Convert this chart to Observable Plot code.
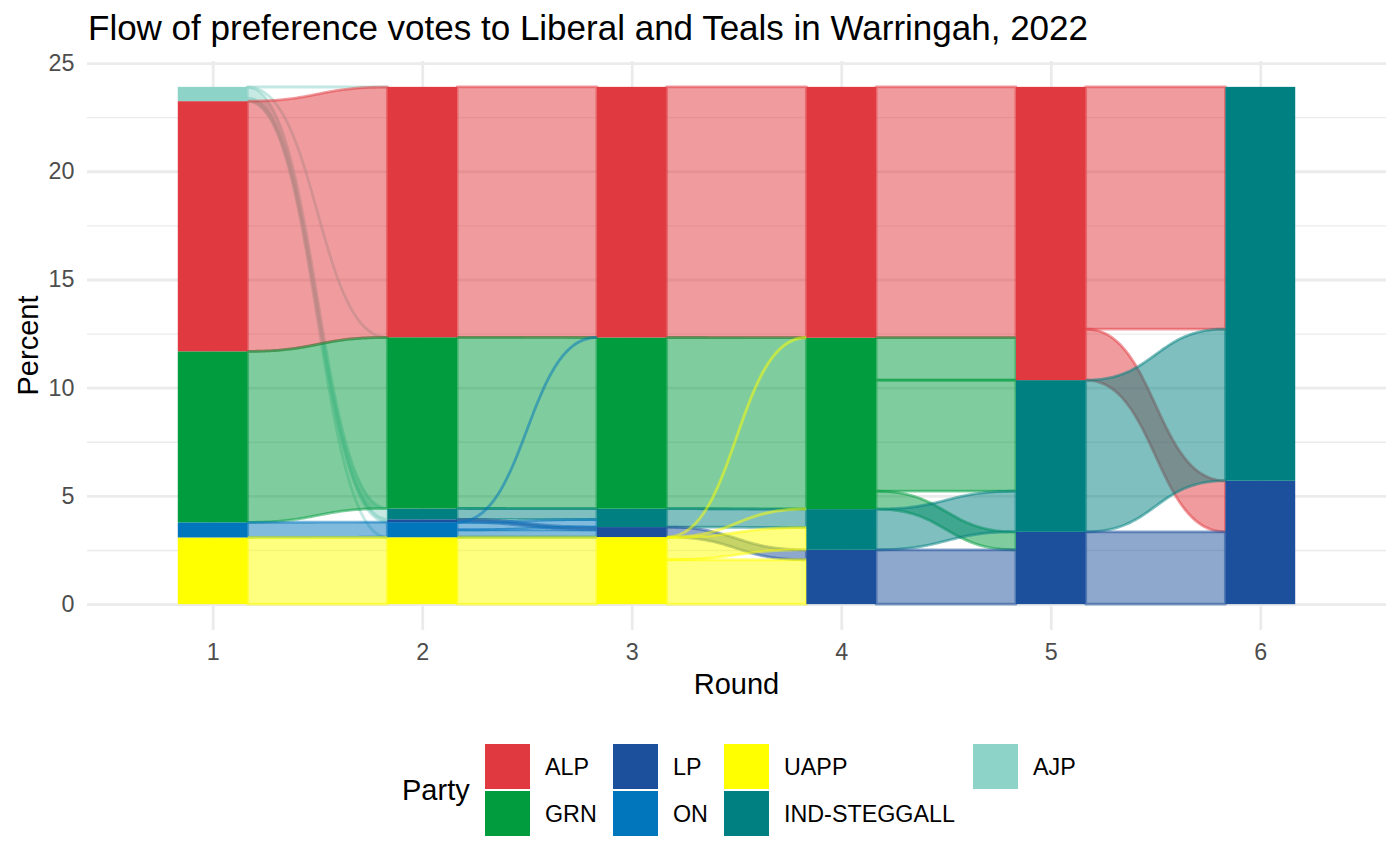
<!DOCTYPE html>
<html>
<head>
<meta charset="utf-8">
<script src="https://cdn.jsdelivr.net/npm/d3@7"></script>
<script src="https://cdn.jsdelivr.net/npm/@observablehq/plot@0.6"></script>
<style>
  html, body { margin: 0; padding: 0; background: #ffffff; }
  #wrap { position: relative; width: 1400px; height: 865px; font-family: "Liberation Sans", Arial, sans-serif; }
  #chart { position: absolute; left: 0; top: 0; }
  #overlay { position: absolute; left: 0; top: 0; }
</style>
</head>
<body>
<div id="wrap">
  <div id="chart"></div>
</div>
<script>
// ---------------- data ----------------
const rounds = [1, 2, 3, 4, 5, 6];
const roundLabels = ["1", "2", "3", "4", "5", "6"];
// stacking order, top to bottom
const parties = ["AJP", "ALP", "GRN", "IND-STEGGALL", "LP", "ON", "UAPP"];
const partyColors = ["#8DD3C7", "#E13940", "#009C3D", "#008080", "#1C4F9C", "#0176BC", "#FFFF00"];
const legendOrder = ["ALP", "GRN", "LP", "ON", "UAPP", "IND-STEGGALL", "AJP"];
const yTicks = [0, 5, 10, 15, 20, 25];
const yMinorTicks = [2.5, 7.5, 12.5, 17.5, 22.5];

// flows between consecutive rounds: [from, to, percent]
const flows1to2 = [
  ["AJP", "ALP", 0.01], ["AJP", "GRN", 0.01], ["AJP", "IND-STEGGALL", 0.50],
  ["AJP", "LP", 0.13], ["AJP", "UAPP", 0.01],
  ["ALP", "ALP", 11.56], ["GRN", "GRN", 7.90], ["ON", "ON", 0.70], ["UAPP", "UAPP", 3.08]
];
const flows2to3 = [
  ["ALP", "ALP", 11.57], ["GRN", "GRN", 7.91], ["IND-STEGGALL", "IND-STEGGALL", 0.50],
  ["LP", "LP", 0.13], ["ON", "ALP", 0.01], ["ON", "IND-STEGGALL", 0.35],
  ["ON", "LP", 0.33], ["ON", "UAPP", 0.01], ["UAPP", "UAPP", 3.09]
];
const flows3to4 = [
  ["ALP", "ALP", 11.58], ["GRN", "GRN", 7.91], ["IND-STEGGALL", "IND-STEGGALL", 0.85],
  ["LP", "LP", 0.46], ["UAPP", "ALP", 0.01], ["UAPP", "GRN", 0.01],
  ["UAPP", "IND-STEGGALL", 1.03], ["UAPP", "LP", 2.05]
];
const flows4to5 = [
  ["ALP", "ALP", 11.59], ["GRN", "ALP", 1.96], ["GRN", "IND-STEGGALL", 5.13],
  ["GRN", "LP", 0.83], ["IND-STEGGALL", "IND-STEGGALL", 1.88], ["LP", "LP", 2.51]
];
const flows5to6 = [
  ["ALP", "IND-STEGGALL", 11.19], ["ALP", "LP", 2.36],
  ["IND-STEGGALL", "IND-STEGGALL", 7.01], ["LP", "LP", 3.34]
];
const transitions = [flows1to2, flows2to3, flows3to4, flows4to5, flows5to6];

// ---------------- layout of alluvia ----------------
const W = 1 / 3;      // stratum width in round units
const K = 0.5;        // curve control offset
const N = 60;         // samples per flow
const idx = p => parties.indexOf(p);

function stackTotals(totals) {
  let y = 0; const pos = new Map();
  for (const p of [...parties].reverse()) {
    const v = totals.get(p) || 0;
    if (v > 0) pos.set(p, {y1: y, y2: y + v});
    y += v;
  }
  return pos;
}

const strata = [];
const flowPts = [];
transitions.forEach((fl, k) => {
  const r = rounds[k], r2 = rounds[k + 1];
  const outT = d3.rollup(fl, v => d3.sum(v, d => d[2]), d => d[0]);
  const inT = d3.rollup(fl, v => d3.sum(v, d => d[2]), d => d[1]);
  const pos0 = stackTotals(outT), pos1 = stackTotals(inT);
  for (const [p, s] of pos0) strata.push({round: r, party: p, y1: s.y1, y2: s.y2});
  if (k === transitions.length - 1) for (const [p, s] of pos1) strata.push({round: r2, party: p, y1: s.y1, y2: s.y2});
  const items = fl.map(([from, to, v]) => ({from, to, v}));
  const cur0 = new Map([...pos0].map(([p, s]) => [p, s.y2]));
  const cur1 = new Map([...pos1].map(([p, s]) => [p, s.y2]));
  [...items].sort((a, b) => idx(a.from) - idx(b.from) || idx(a.to) - idx(b.to)).forEach(f => {
    f.a2 = cur0.get(f.from); f.a1 = f.a2 - f.v; cur0.set(f.from, f.a1);
  });
  [...items].sort((a, b) => idx(a.to) - idx(b.to) || idx(a.from) - idx(b.from)).forEach(f => {
    f.b2 = cur1.get(f.to); f.b1 = f.b2 - f.v; cur1.set(f.to, f.b1);
  });
  items.sort((a, b) => idx(a.from) - idx(b.from) || idx(a.to) - idx(b.to));
  const x0 = r + W / 2, x1 = r2 - W / 2;
  for (const f of items) {
    const id = `${k}-${f.from}-${f.to}`;
    for (let j = 0; j <= N; j++) {
      const t = j / N;
      const sx = 3 * (1 - t) ** 2 * t * K + 3 * (1 - t) * t ** 2 * (1 - K) + t ** 3;
      const sy = 3 * (1 - t) * t ** 2 + t ** 3;
      flowPts.push({
        id, party: f.from,
        x: x0 + (x1 - x0) * sx,
        y1: f.a1 + (f.b1 - f.a1) * sy,
        y2: f.a2 + (f.b2 - f.a2) * sy
      });
    }
  }
});

// ---------------- plot ----------------
const chart = Plot.plot({
  width: 1400,
  height: 865,
  marginLeft: 87,
  marginRight: 14,
  marginTop: 61,
  marginBottom: 235,
  style: {fontFamily: "'Liberation Sans', Arial, sans-serif", background: "#ffffff"},
  x: {domain: [0.4, 6.6]},
  y: {domain: [-1.195, 25.095]},
  color: {domain: parties, range: partyColors},
  marks: [
    Plot.gridY(yMinorTicks, {stroke: "#EBEBEB", strokeOpacity: 1, strokeWidth: 1.4}),
    Plot.gridY(yTicks, {stroke: "#EBEBEB", strokeOpacity: 1, strokeWidth: 2.8}),
    Plot.gridX(rounds, {stroke: "#EBEBEB", strokeOpacity: 1, strokeWidth: 2.8}),
    Plot.areaY(flowPts, {
      x: "x", y1: "y1", y2: "y2", z: "id",
      fill: "party", stroke: "party",
      fillOpacity: 0.5, strokeOpacity: 0.5, strokeWidth: 2.8
    }),
    Plot.rect(strata, {
      x1: d => d.round - W / 2, x2: d => d.round + W / 2,
      y1: "y1", y2: "y2", fill: "party"
    }),
    Plot.axisY(yTicks, {tickSize: 0, tickPadding: 13, fontSize: 23.3, color: "#4D4D4D", label: null}),
    Plot.axisX(rounds, {
      tickSize: 0, tickPadding: 13, fontSize: 23.3, color: "#4D4D4D", label: null,
      tickFormat: d => roundLabels[rounds.indexOf(d)]
    })
  ]
});
document.getElementById("chart").appendChild(chart);

// ---------------- title, axis titles, legend ----------------
const colorOf = p => partyColors[parties.indexOf(p)];
const svg = d3.select("#wrap").append("svg")
  .attr("id", "overlay").attr("width", 1400).attr("height", 865)
  .style("font-family", "'Liberation Sans', Arial, sans-serif");

svg.append("text").attr("x", 88).attr("y", 40).attr("font-size", 35).attr("fill", "#000")
  .text("Flow of preference votes to Liberal and Teals in Warringah, 2022");
svg.append("text").attr("x", 736.5).attr("y", 694).attr("font-size", 29).attr("fill", "#000")
  .attr("text-anchor", "middle").text("Round");
svg.append("text").attr("transform", "translate(38,345.5) rotate(-90)").attr("font-size", 29)
  .attr("fill", "#000").attr("text-anchor", "middle").text("Percent");

const leg = svg.append("g");
leg.append("text").attr("x", 402).attr("y", 800).attr("font-size", 29).attr("fill", "#000").text("Party");
const colX = [485, 613, 724, 973];
const rowY = [744, 791];
legendOrder.forEach((p, i) => {
  const c = Math.floor(i / 2), r = i % 2;
  leg.append("rect").attr("x", colX[c]).attr("y", rowY[r]).attr("width", 45).attr("height", 45)
    .attr("fill", colorOf(p));
  leg.append("text").attr("x", colX[c] + 60).attr("y", rowY[r] + 22.5 + 8.3)
    .attr("font-size", 23.3).attr("fill", "#000").text(p);
});
</script>
</body>
</html>
